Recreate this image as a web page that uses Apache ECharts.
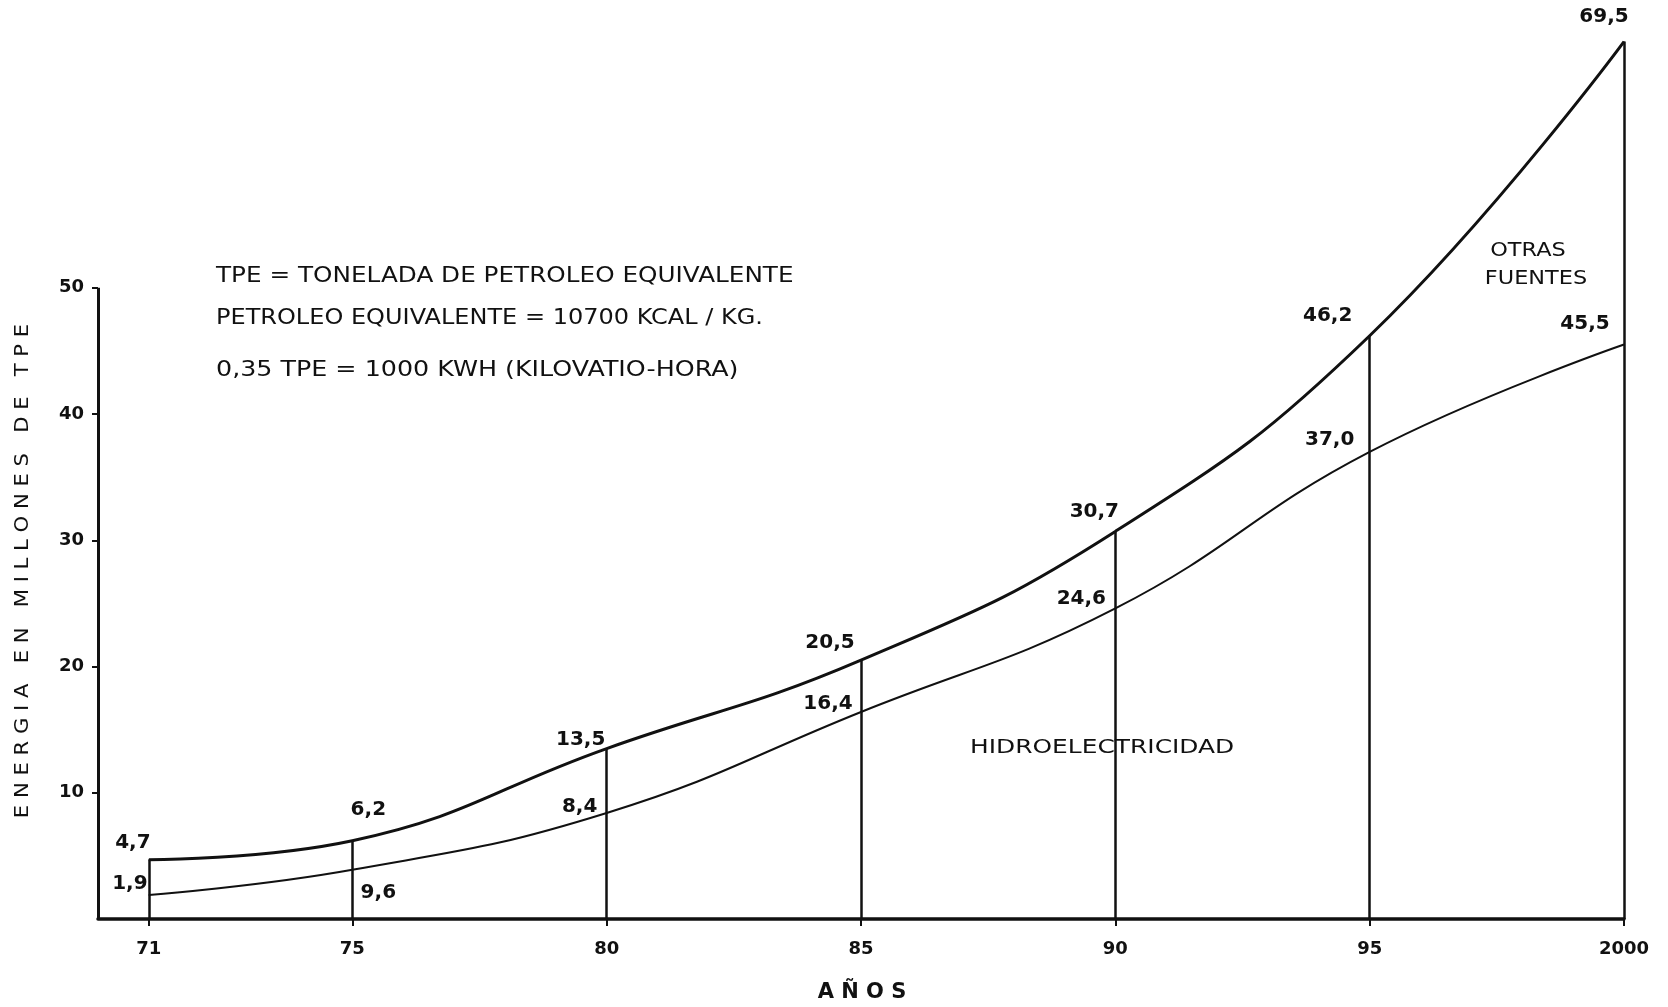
<!DOCTYPE html>
<html><head><meta charset="utf-8">
<script src="https://cdn.jsdelivr.net/npm/echarts@6/dist/echarts.min.js"></script>
<style>html,body{margin:0;padding:0;background:#fff}#c{width:1668px;height:1007px}</style>
</head><body><div id="c"></div>
<script>
// ---- data ----
const years = [71, 75, 80, 85, 90, 95, 100];
const total = [4.7, 6.2, 13.5, 20.5, 30.7, 46.2, 69.5];
const hydro = [1.9, 3.9, 8.4, 16.4, 24.6, 37.0, 45.5];
const totalLabels = ['4,7', '6,2', '13,5', '20,5', '30,7', '46,2', '69,5'];
const hydroLabels = ['1,9', '9,6', '8,4', '16,4', '24,6', '37,0', '45,5'];
const xTicks = [71, 75, 80, 85, 90, 95, 100];
const xTickLabels = ['71', '75', '80', '85', '90', '95', '2000'];
const yTicks = [10, 20, 30, 40, 50];
const yAxisTop = 50;
const notes = ['TPE = TONELADA DE PETROLEO EQUIVALENTE', 'PETROLEO EQUIVALENTE = 10700 KCAL / KG.', '0,35 TPE = 1000 KWH (KILOVATIO-HORA)'];
const regionTop = ['OTRAS', 'FUENTES'];
const regionBottom = 'HIDROELECTRICIDAD';
const yName = 'ENERGIA EN MILLONES DE TPE';
const xName = 'AÑOS';

// ---- label placement (style) ----
const totalOff = [[-16, -1], [16, -15], [-26, 7], [-31, -2], [-21, -4], [-42, -4], [-20, -9]];
const hydroOff = [[-19, 4], [26, 39], [-27, 9], [-33, 7], [-34, 6], [-40, 3], [-39, -5]];
const noteY = [277, 319, 371];
const noteScale = [1.176, 1.143, 1.207];

const INK = '#111';
const FONT = '"DejaVu Sans", sans-serif';
const spaced = s => s.split('').join(' ');

function pts(vals, labels, offs) {
  return years.map((y, i) => ({
    value: [y, vals[i]],
    label: { formatter: labels[i], offset: offs[i] }
  }));
}

const vLines = years.map((y, i) => [{ coord: [y, 0] }, { coord: [y, total[i]] }]);
vLines.push([{ coord: [70, 0], lineStyle: { width: 3 } }, { coord: [70, yAxisTop] }]);

const lbl = { show: true, position: 'top', distance: 5, color: INK, fontSize: 20, fontWeight: 'bold', fontFamily: FONT };

const chart = echarts.init(document.getElementById('c'), null, { renderer: 'canvas' });
chart.setOption({
  animation: false,
  backgroundColor: '#fff',
  grid: { left: 98, right: 44, top: 10, bottom: 88 },
  xAxis: {
    type: 'value', min: 70, max: 100,
    axisLine: { show: true, lineStyle: { color: INK, width: 3.5 } },
    axisTick: { show: true, customValues: xTicks, length: 7, lineStyle: { color: INK, width: 2 } },
    axisLabel: {
      customValues: xTicks, color: INK, fontSize: 18, fontWeight: 'bold', fontFamily: FONT, margin: 21,
      formatter: v => xTickLabels[xTicks.indexOf(v)]
    },
    splitLine: { show: false }
  },
  yAxis: {
    type: 'value', min: 0, max: 72,
    axisLine: { show: false },
    axisTick: { show: true, customValues: yTicks, length: 6, lineStyle: { color: INK, width: 2 } },
    axisLabel: { customValues: yTicks, color: INK, fontSize: 18, fontWeight: 'bold', fontFamily: FONT, margin: 14 },
    splitLine: { show: false }
  },
  series: [
    {
      type: 'line', name: 'total', data: pts(total, totalLabels, totalOff),
      smooth: 0.45,
      symbol: 'circle', symbolSize: 1, itemStyle: { color: INK },
      lineStyle: { color: INK, width: 3 },
      label: lbl,
      markLine: {
        silent: true, symbol: ['none', 'none'], label: { show: false },
        lineStyle: { color: INK, width: 2.5, type: 'solid' },
        data: vLines
      },
      z: 3
    },
    {
      type: 'line', name: 'hydro', data: pts(hydro, hydroLabels, hydroOff),
      smooth: 0.45,
      symbol: 'circle', symbolSize: 1, itemStyle: { color: INK },
      lineStyle: { color: INK, width: 2 },
      label: lbl,
      z: 3
    }
  ],
  graphic: [
    ...notes.map((t, i) => ({
      type: 'text', x: 216, y: noteY[i], scaleX: noteScale[i],
      style: { text: t, font: '21px ' + FONT, fill: INK, textVerticalAlign: 'middle' }
    })),
    { type: 'text', x: 1528, y: 251, scaleX: 1.18,
      style: { text: regionTop[0], font: '19px ' + FONT, fill: INK, textAlign: 'center', textVerticalAlign: 'middle' } },
    { type: 'text', x: 1536, y: 279, scaleX: 1.18,
      style: { text: regionTop[1], font: '19px ' + FONT, fill: INK, textAlign: 'center', textVerticalAlign: 'middle' } },
    { type: 'text', x: 970, y: 748, scaleX: 1.31,
      style: { text: regionBottom, font: '19px ' + FONT, fill: INK, textVerticalAlign: 'middle' } },
    { type: 'text', x: 23, y: 571, rotation: Math.PI / 2, scaleX: 1.057,
      style: { text: spaced(yName), font: '20px ' + FONT, fill: INK, textAlign: 'center', textVerticalAlign: 'middle' } },
    { type: 'text', x: 862, y: 993,
      style: { text: spaced(xName), font: 'bold 21px ' + FONT, fill: INK, textAlign: 'center', textVerticalAlign: 'middle' } }
  ]
});
</script>
</body></html>
